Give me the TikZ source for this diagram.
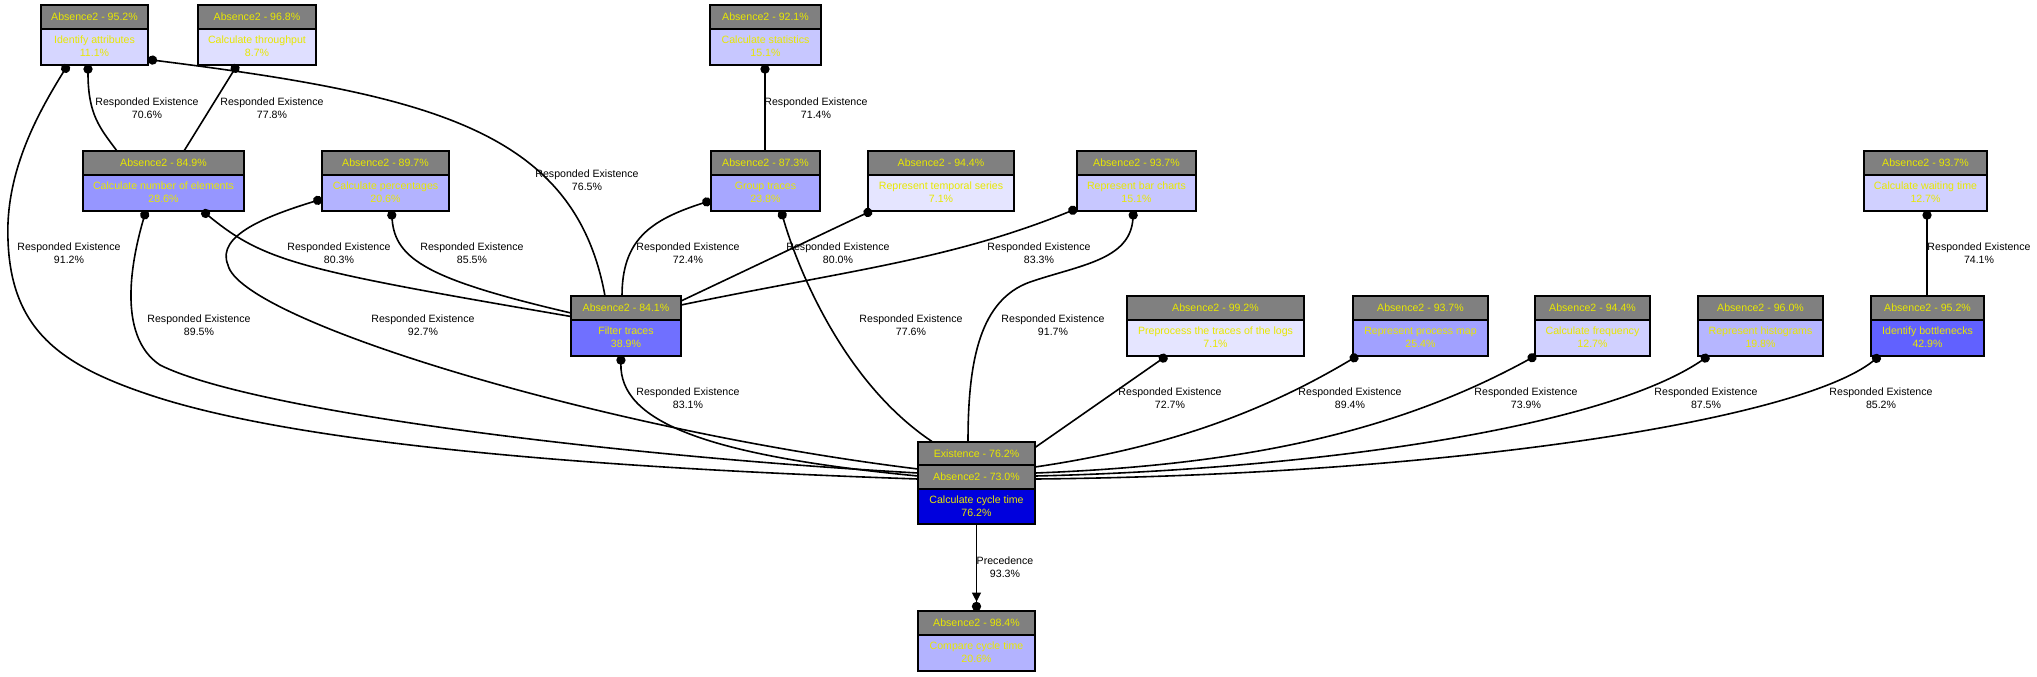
\documentclass[tikz,border=0pt]{standalone}
\usepackage{fontspec}
\setmainfont{Liberation Sans}
\usetikzlibrary{arrows.meta,calc}
\definecolor{hgray}{RGB}{128,128,128}
\definecolor{ylw}{RGB}{232,232,0}
\definecolor{cyblue}{RGB}{0,0,221}
\newcommand\nodefont{\fontsize{5.3}{6.35}\selectfont}
\newcommand\actnode[7]{%
  \definecolor{fc#1}{RGB}{#7,#7,255}%
  \node[hdr, minimum width={(#3-#2)*0.5pt}, anchor=north west] (#1h) at (#2,#4) {#5};
  \node[bdy, fill=fc#1, minimum width={(#3-#2)*0.5pt}, anchor=north] (#1) at (#1h.south) {#6};
}
\tikzset{
  hdr/.style={draw=black, line width=1pt, fill=hgray, text=ylw, inner sep=0pt, outer sep=0pt, minimum height=11.75pt, font=\nodefont},
  bdy/.style={draw=black, line width=1pt, text=ylw, align=center, inner sep=0pt, outer sep=0pt, minimum height=18pt, font=\nodefont},
  lbl/.style={align=center, inner sep=0pt, font=\nodefont, text=black},
  rel/.style={line width=0.8pt, {Circle[length=4.6pt]}-},
  prec/.style={line width=0.8pt, -{Triangle[length=4.6pt,width=4.4pt]Circle[length=4.6pt]}}
}
\begin{document}
\begin{tikzpicture}[x=0.5pt,y=-0.5pt]
\fill[white] (0,0) rectangle (2037,676);
\useasboundingbox (0,0) rectangle (2037,676);
% row 1
\actnode{ia}{41}{148}{5}{Absence2 - 95.2\%}{Identify attributes\\11.1\%}{214}
\actnode{ct}{198}{316}{5}{Absence2 - 96.8\%}{Calculate throughput\\8.7\%}{223}
\actnode{cs}{710}{821}{5}{Absence2 - 92.1\%}{Calculate statistics\\15.1\%}{199}
% row 2
\actnode{cn}{83}{244}{151}{Absence2 - 84.9\%}{Calculate number of elements\\28.6\%}{150}
\actnode{cp}{322}{449}{151}{Absence2 - 89.7\%}{Calculate percentages\\20.6\%}{179}
\actnode{gt}{711}{820}{151}{Absence2 - 87.3\%}{Group traces\\23.8\%}{167}
\actnode{rt}{868}{1014}{151}{Absence2 - 94.4\%}{Represent temporal series\\7.1\%}{229}
\actnode{rb}{1077}{1196}{151}{Absence2 - 93.7\%}{Represent bar charts\\15.1\%}{199}
\actnode{cw}{1864}{1987}{151}{Absence2 - 93.7\%}{Calculate waiting time\\12.7\%}{208}
% row 3
\actnode{ft}{571}{681}{296}{Absence2 - 84.1\%}{Filter traces\\38.9\%}{112}
\actnode{pp}{1127}{1304}{296}{Absence2 - 99.2\%}{Preprocess the traces of the logs\\7.1\%}{229}
\actnode{rp}{1353}{1488}{296}{Absence2 - 93.7\%}{Represent process map\\25.4\%}{161}
\actnode{cf}{1535}{1650}{296}{Absence2 - 94.4\%}{Calculate frequency\\12.7\%}{208}
\actnode{rh}{1698}{1823}{296}{Absence2 - 96.0\%}{Represent histograms\\19.8\%}{182}
\actnode{ib}{1871}{1984}{296}{Absence2 - 95.2\%}{Identify bottlenecks\\42.9\%}{97}
% cycle time
\node[hdr, minimum width=58.5pt, anchor=north west] (cyh1) at (918,441.5) {Existence - 76.2\%};
\node[hdr, minimum width=58.5pt, anchor=north] (cyh2) at (cyh1.south) {Absence2 - 73.0\%};
\node[bdy, fill=cyblue, minimum width=58.5pt, minimum height=17.5pt, anchor=north] (cy) at (cyh2.south) {Calculate cycle time\\76.2\%};
\actnode{cc}{918}{1035}{611}{Absence2 - 98.4\%}{Compare cycle time\\20.6\%}{179}
% edges
\draw[rel] ($(ia.south west)+(47,0)$) .. controls (88,115) and (100,128) .. ($(cnh.north west)+(34,0)$);
\draw[rel] ($(ct.south west)+(39.5,0)$) -- ($(cnh.north west)+(101,0)$);
\draw[rel] ($(ia.south east)+(0,-5)$) .. controls (430,95) and (575,130) .. ($(fth.north west)+(34,0)$);
\draw[rel] ($(ia.south west)+(27,0)$) .. controls (40,110) and (5,170) .. (8,240) .. controls (11,330) and (60,365) .. (150,395) .. controls (300,445) and (600,468) .. ($(cyh2.south west)+(0,-9.5)$);
\draw[rel] ($(cn.south west)+(63,0)$) .. controls (133,255) and (115,335) .. (160,365) .. controls (250,410) and (600,455) .. ($(cyh2.south west)+(0,-15.5)$);
\draw[rel] ($(cn.south west)+(119,0)$) .. controls (265,262) and (300,270) .. ($(fth.south west)+(0,-3)$);
\draw[rel] ($(cp.west)+(0,6.5)$) .. controls (270,215) and (215,235) .. (228,265) .. controls (240,320) and (600,430) .. ($(cyh2.south west)+(0,-19.5)$);
\draw[rel] ($(cp.south west)+(69.5,0)$) .. controls (395,260) and (430,280) .. ($(fth.south west)+(0,-6.5)$);
\draw[rel] ($(gt.west)+(0,8)$) .. controls (650,220) and (622,240) .. ($(fth.north west)+(51,0)$);
\draw[rel] ($(rt.south west)+(4,0)$) -- ($(fth.north east)+(0,5)$);
\draw[rel] ($(rb.south west)+(0,-2)$) .. controls (950,260) and (850,270) .. ($(fth.north east)+(0,9)$);
\draw[rel] ($(rb.south west)+(56.5,0)$) .. controls (1130,260) and (1080,265) .. (1030,282) .. controls (980,300) and (968,360) .. ($(cyh1.north west)+(50,0)$);
\draw[rel] ($(gt.south west)+(70,0)$) .. controls (795,260) and (840,380) .. ($(cyh1.north west)+(14,0)$);
\draw[rel] ($(ft.south west)+(50,0)$) .. controls (620,420) and (700,455) .. ($(cyh2.south west)+(0,-12.5)$);
\draw[rel] ($(pp.south west)+(40,0)$) -- ($(cyh1.north east)+(0,6)$);
\draw[rel] ($(rp.south west)+(5,0)$) .. controls (1250,420) and (1150,450) .. ($(cyh2.north east)+(0,2)$);
\draw[rel] ($(cf.south west)+(1,0)$) .. controls (1400,430) and (1250,465) .. ($(cyh2.north east)+(0,8)$);
\draw[rel] ($(rh.south west)+(11,0)$) .. controls (1600,430) and (1300,470) .. ($(cyh2.north east)+(0,11)$);
\draw[rel] ($(ib.south west)+(9,0)$) .. controls (1800,420) and (1450,475) .. ($(cyh2.north east)+(0,14)$);
\draw[rel] ($(cw.south west)+(63,0)$) -- ($(ibh.north west)+(56,0)$);
\draw[rel] ($(cs.south west)+(55,0)$) -- ($(gth.north west)+(54,0)$);
\draw[prec] (cy.south) -- (cch.north);
% labels
\node[lbl] (l1) at (147,108) {Responded Existence\\70.6\%};
\node[lbl] (l2) at (272,108) {Responded Existence\\77.8\%};
\node[lbl] (l3) at (587,180) {Responded Existence\\76.5\%};
\node[lbl] (l4) at (69,253) {Responded Existence\\91.2\%};
\node[lbl] (l5) at (199,325) {Responded Existence\\89.5\%};
\node[lbl] (l6) at (339,253) {Responded Existence\\80.3\%};
\node[lbl] (l7) at (423,325) {Responded Existence\\92.7\%};
\node[lbl] (l8) at (472,253) {Responded Existence\\85.5\%};
\node[lbl] (l9) at (688,253) {Responded Existence\\72.4\%};
\node[lbl] (l10) at (838,253) {Responded Existence\\80.0\%};
\node[lbl] (l11) at (1039,253) {Responded Existence\\83.3\%};
\node[lbl] (l12) at (1053,325) {Responded Existence\\91.7\%};
\node[lbl] (l13) at (911,325) {Responded Existence\\77.6\%};
\node[lbl] (l14) at (688,398) {Responded Existence\\83.1\%};
\node[lbl] (l15) at (1170,398) {Responded Existence\\72.7\%};
\node[lbl] (l16) at (1350,398) {Responded Existence\\89.4\%};
\node[lbl] (l17) at (1526,398) {Responded Existence\\73.9\%};
\node[lbl] (l18) at (1706,398) {Responded Existence\\87.5\%};
\node[lbl] (l19) at (1881,398) {Responded Existence\\85.2\%};
\node[lbl] (l20) at (1979,253) {Responded Existence\\74.1\%};
\node[lbl] (l21) at (816,108) {Responded Existence\\71.4\%};
\node[lbl] (l22) at (1005,567) {Precedence\\93.3\%};
\end{tikzpicture}
\end{document}
